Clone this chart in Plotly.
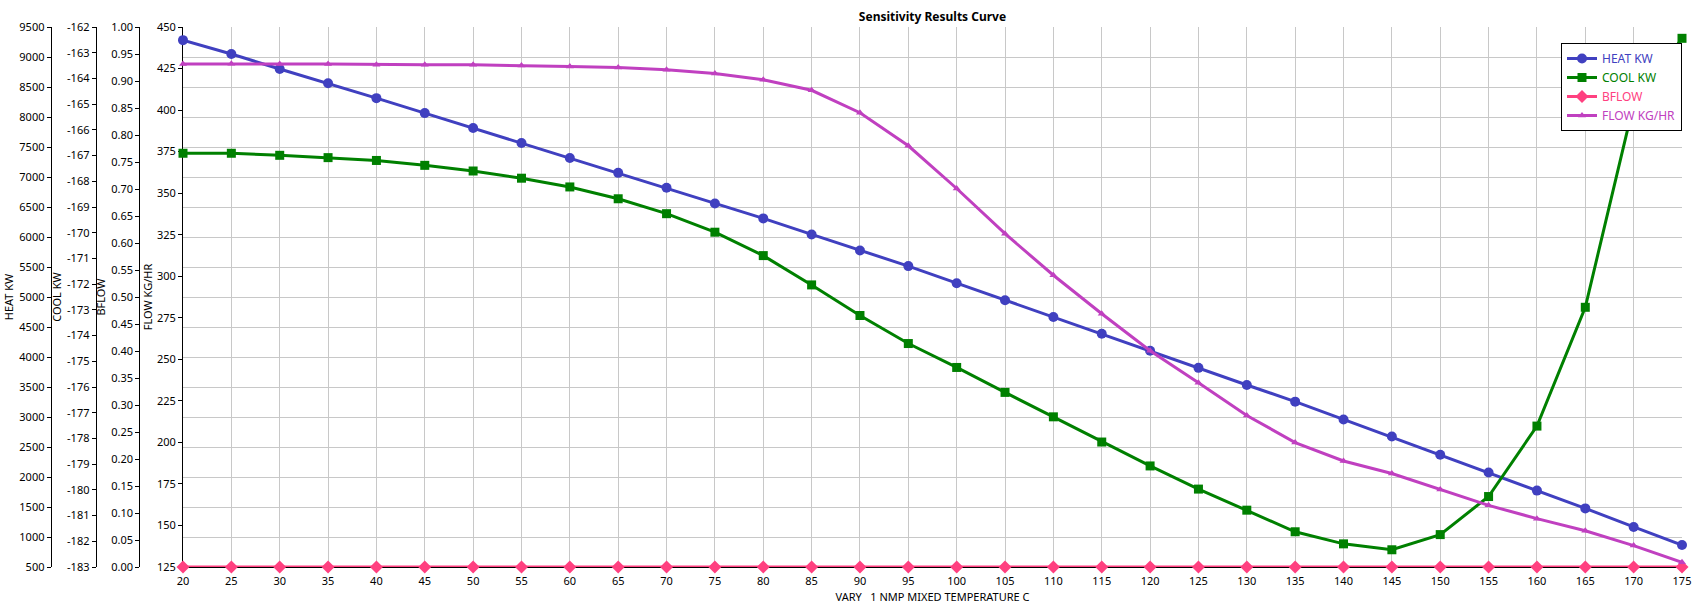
import plotly.graph_objects as go

# sensitivity case: NMP mixed temperature (C)
x_vals = [20, 25, 30, 35, 40, 45, 50, 55, 60, 65, 70, 75, 80, 85, 90, 95,
          100, 105, 110, 115, 120, 125, 130, 135, 140, 145, 150, 155, 160, 165, 170, 175]

heat_kw = [9281, 9049, 8800, 8563, 8314, 8065, 7816, 7567, 7318, 7069, 6820, 6559,
           6310, 6043, 5776, 5515, 5230, 4946, 4667, 4388, 4104, 3819, 3534, 3256,
           2959, 2675, 2372, 2076, 1773, 1477, 1168, 866]

cool_kw = [-166.91, -166.91, -166.99, -167.08, -167.19, -167.38, -167.60, -167.88,
           -168.22, -168.68, -169.26, -169.98, -170.89, -172.03, -173.22, -174.31,
           -175.24, -176.21, -177.16, -178.14, -179.07, -179.97, -180.79, -181.63,
           -182.10, -182.33, -181.74, -180.26, -177.52, -172.90, -165.00, -162.44]

bflow = [0, 0, 0, 0, 0, 0, 0, 0, 0, 0, 0, 0, 0, 0, 0, 0,
         0, 0, 0, 0, 0, 0, 0, 0, 0, 0, 0, 0, 0, 0, 0, 0]

flow_kg_hr = [427.7, 427.9, 427.7, 427.7, 427.3, 427.3, 427.3, 426.9, 426.2, 425.6,
              424.3, 422.0, 418.3, 411.9, 398.4, 378.5, 352.8, 325.6, 300.6, 277.4,
              255.2, 235.9, 216.2, 199.9, 188.8, 181.3, 171.7, 162.1, 154.1, 146.8,
              137.9, 127.8]

# COOL KW axis ticks (printed with a plain hyphen, like the original)
cool_ticks = [-183, -182, -181, -180, -179, -178, -177, -176, -175, -174, -173,
              -172, -171, -170, -169, -168, -167, -166, -165, -164, -163, -162]

W, H = 1699, 614
ml, mr, mt, mb = 0, 17, 27, 47
pw = W - ml - mr

font = "Noto Sans"

c_heat = '#4040C0'
c_cool = '#008000'
c_bflow = '#FF4080'
c_flow = '#C040C0'

def lbl(name, col):
    return "<span style='color:%s'>%s</span>" % (col, name)

fig = go.Figure()
fig.add_trace(go.Scatter(x=x_vals, y=heat_kw, name=lbl('HEAT KW', c_heat), yaxis='y',
                         mode='lines+markers', line=dict(color=c_heat, width=3),
                         marker=dict(symbol='circle', size=10, color=c_heat), cliponaxis=False))
fig.add_trace(go.Scatter(x=x_vals, y=cool_kw, name=lbl('COOL KW', c_cool), yaxis='y2',
                         mode='lines+markers', line=dict(color=c_cool, width=3),
                         marker=dict(symbol='square', size=9, color=c_cool), cliponaxis=False))
fig.add_trace(go.Scatter(x=x_vals, y=bflow, name=lbl('BFLOW', c_bflow), yaxis='y3',
                         mode='lines+markers', line=dict(color=c_bflow, width=3),
                         marker=dict(symbol='diamond', size=10, color=c_bflow), cliponaxis=False))
fig.add_trace(go.Scatter(x=x_vals, y=flow_kg_hr, name=lbl('FLOW KG/HR', c_flow), yaxis='y4',
                         mode='lines+markers', line=dict(color=c_flow, width=3),
                         marker=dict(symbol='triangle-up', size=7, color=c_flow), cliponaxis=False))

x0 = 183 / pw

ax_common = dict(showline=True, linecolor='black', linewidth=1, ticks='outside', ticklen=4,
                 tickcolor='black', tickfont=dict(size=11, color='black', family=font),
                 zeroline=False, automargin=False, layer='below traces',
                 title_font=dict(size=11, color='black', family=font), title_standoff=2)

fig.update_layout(
    width=W, height=H,
    margin=dict(l=ml, r=mr, t=mt, b=mb, pad=0),
    paper_bgcolor='white', plot_bgcolor='white',
    font=dict(family=font, size=11, color='black'),
    title=dict(text='<b>Sensitivity Results Curve</b>', x=(x0 + 1) / 2, xref='paper', xanchor='center',
               y=1 - 16.5 / H, yref='container', yanchor='middle', font=dict(size=12, family=font)),
    xaxis=dict(domain=[x0, 1], range=[20, 175], dtick=5, tick0=20, showgrid=True, gridcolor='#c8c8c8',
               gridwidth=1, showline=True, linecolor='black', zeroline=False, ticks='outside',
               ticklen=4, tickcolor='rgba(0,0,0,0)', tickfont=dict(size=11, color='black', family=font),
               title=dict(text='VARY   1 NMP MIXED TEMPERATURE C', standoff=6,
                          font=dict(size=11, color='black', family=font)),
               automargin=False, layer='below traces'),
    yaxis=dict(ax_common, anchor='free', position=50.7 / pw, range=[500, 9500], dtick=500, tick0=500,
               showgrid=True, gridcolor='#c8c8c8', gridwidth=1, title=dict(text='HEAT KW')),
    yaxis2=dict(ax_common, anchor='free', overlaying='y', position=95.7 / pw, range=[-183, -162],
                tickmode='array', tickvals=cool_ticks, ticktext=[str(v) for v in cool_ticks],
                showgrid=False, title=dict(text='COOL KW')),
    yaxis3=dict(ax_common, anchor='free', overlaying='y', position=139.3 / pw, range=[0, 1],
                dtick=0.05, tickformat='.2f', showgrid=False, title=dict(text='BFLOW')),
    yaxis4=dict(ax_common, anchor='x', overlaying='y', range=[125, 450], dtick=25, tick0=125,
                showgrid=False, title=dict(text='FLOW KG/HR')),
    legend=dict(x=1, xanchor='right', y=1 - 16 / (H - mt - mb), yanchor='top',
                bgcolor='white', bordercolor='black', borderwidth=1,
                font=dict(size=12, family=font), tracegroupgap=0, itemwidth=30),
    showlegend=True,
)

# no page margin, so the full figure fits the window without scrollbars
fig.write_html("out.html", config={'displayModeBar': False},
               post_script="document.body.style.margin='0';document.body.style.overflow='hidden';")
